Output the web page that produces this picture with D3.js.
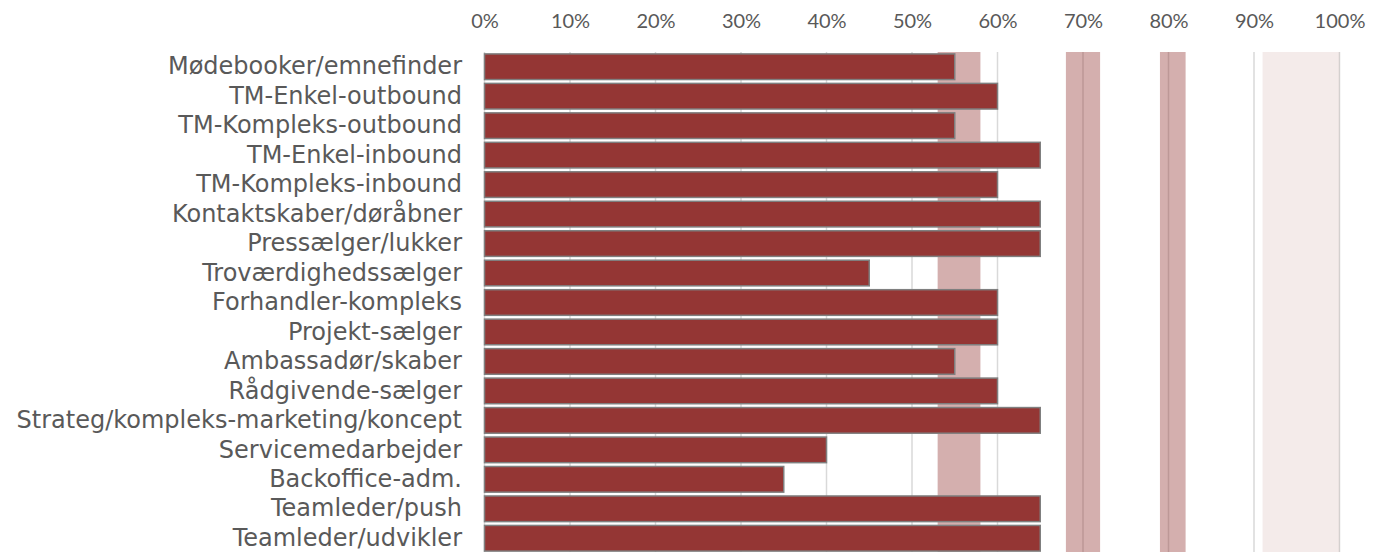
<!DOCTYPE html>
<html>
<head>
<meta charset="utf-8">
<script src="https://cdn.jsdelivr.net/npm/d3@7"></script>
<style>
  body { margin: 0; background: #fff; }
</style>
</head>
<body>
<div id="chart"></div>
<script>
const categories = [
  "Mødebooker/emnefinder", "TM-Enkel-outbound", "TM-Kompleks-outbound",
  "TM-Enkel-inbound", "TM-Kompleks-inbound", "Kontaktskaber/døråbner",
  "Pressælger/lukker", "Troværdighedssælger", "Forhandler-kompleks",
  "Projekt-sælger", "Ambassadør/skaber", "Rådgivende-sælger",
  "Strateg/kompleks-marketing/koncept", "Servicemedarbejder",
  "Backoffice-adm.", "Teamleder/push", "Teamleder/udvikler"
];
const values = [55, 60, 55, 65, 60, 65, 65, 45, 60, 60, 55, 60, 65, 40, 35, 65, 65];
const tickValues = [0, 10, 20, 30, 40, 50, 60, 70, 80, 90, 100];
// shaded ranges (percent) behind the bars
const bandStart = [53, 68, 79, 91];
const bandEnd = [58, 72, 82, 100];
const bandOpacity = [0.4, 0.4, 0.4, 0.1];

const width = 1384, height = 552;
const svg = d3.select("#chart").append("svg")
  .attr("width", width).attr("height", height);

const x = d3.scaleLinear().domain([0, 100]).range([484.5, 1339.5]);
const y = d3.scaleBand().domain(categories).range([52, 553])
  .paddingInner(0.13).paddingOuter(0.065);

// gridlines
svg.append("g").selectAll("line").data(tickValues).join("line")
  .attr("x1", d => x(d)).attr("x2", d => x(d))
  .attr("y1", 52).attr("y2", 555)
  .attr("stroke", "#d9d9d9").attr("stroke-width", 1.5);

// bands
svg.append("g").selectAll("rect").data(bandStart).join("rect")
  .attr("x", (d, i) => x(d))
  .attr("width", (d, i) => x(bandEnd[i]) - x(d))
  .attr("y", 52).attr("height", 503)
  .attr("fill", "#943634")
  .attr("fill-opacity", (d, i) => bandOpacity[i]);

// bars
svg.append("g").selectAll("rect").data(values).join("rect")
  .attr("x", x(0))
  .attr("y", (d, i) => y(categories[i]))
  .attr("width", d => x(d) - x(0))
  .attr("height", y.bandwidth())
  .attr("fill", "#943634")
  .attr("stroke", "#7f7f7f")
  .attr("stroke-width", 1.5);

// top axis
const xAxis = d3.axisTop(x).tickValues(tickValues).tickFormat(d => d + "%").tickSize(0);
svg.append("g").attr("transform", "translate(0,31)").call(xAxis)
  .call(g => g.select(".domain").remove())
  .selectAll("text")
  .style("font-size", "20px").style("font-family", "Lato, sans-serif")
  .attr("fill", "#595959");

// category labels
const yAxis = d3.axisLeft(y).tickSize(0).tickPadding(0);
svg.append("g").attr("transform", "translate(462,0)").call(yAxis)
  .call(g => g.select(".domain").remove())
  .selectAll("text")
  .style("font-size", "24px").style("font-family", "DejaVu Sans, Verdana, sans-serif")
  .attr("fill", "#595959");
</script>
</body>
</html>
